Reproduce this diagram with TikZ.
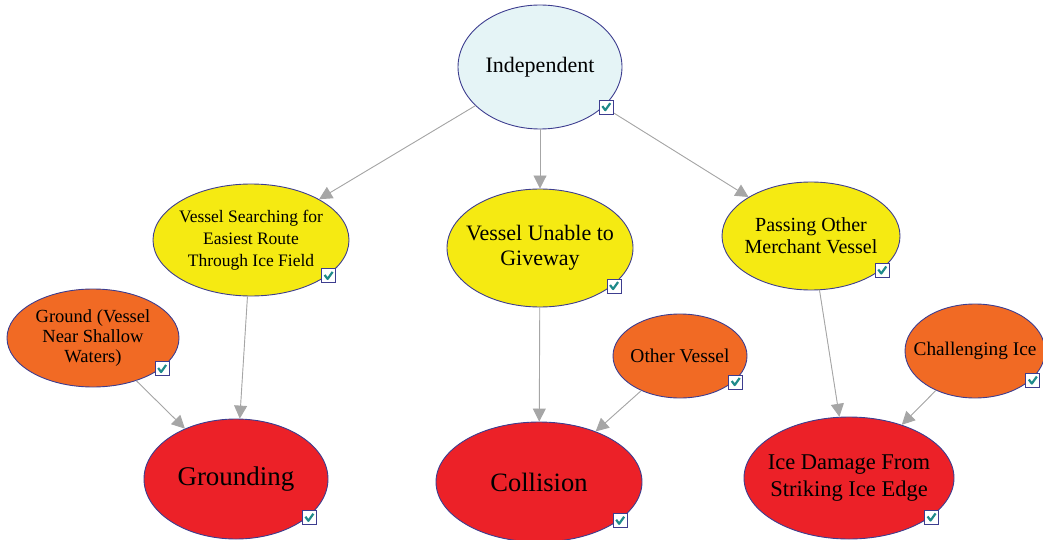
\documentclass[tikz,border=0pt]{standalone}
\usepackage{fontspec}
\setmainfont{Liberation Serif}
\usetikzlibrary{positioning,calc}
\usetikzlibrary{shapes.geometric,arrows.meta}

\definecolor{nodeline}{HTML}{3D3D8F}
\definecolor{indepfill}{HTML}{E5F4F6}
\definecolor{causefill}{HTML}{F5EA12}
\definecolor{extfill}{HTML}{F16A24}
\definecolor{accfill}{HTML}{EC2128}
\definecolor{linkgray}{HTML}{A6A6A6}
\definecolor{checkteal}{HTML}{1E8A8A}

\tikzset{
  bnode/.style={ellipse, draw=nodeline, line width=0.9pt, inner sep=-15pt, align=center, text=black},
  indepnode/.style={bnode, fill=indepfill},
  causenode/.style={bnode, fill=causefill},
  extnode/.style={bnode, fill=extfill},
  accnode/.style={bnode, fill=accfill},
  link/.style={draw=linkgray, fill=linkgray, line width=0.9pt, -{Triangle[length=13pt,width=13pt]}},
  chkbox/.pic={
    \draw[nodeline, fill=white, line width=1pt] (-7,-7) rectangle (7,7);
    \draw[checkteal, line width=2.2pt, line join=round] (-4,-1) -- (-1,3) -- (4,-4);
  }
}

\begin{document}
\begin{tikzpicture}[x=1pt, y=-1pt]
    \useasboundingbox (0,0) rectangle (1043,540);
    \clip (0,0) rectangle (1043,540);

    % root
    \node[indepnode, minimum width=164pt, minimum height=124pt, font=\fontsize{22}{26}\selectfont]
      (indep) at (540,67) {Independent};

    % causes
    \node[causenode, minimum width=196pt, minimum height=112pt, font=\fontsize{17.5}{22}\selectfont]
      (search) at (251,240) {Vessel Searching for\\Easiest Route\\Through Ice Field};
    \node[causenode, minimum width=186pt, minimum height=118pt, font=\fontsize{22}{25}\selectfont]
      (unable) at (540,248) {Vessel Unable to\\Giveway};
    \node[causenode, minimum width=178pt, minimum height=108pt, font=\fontsize{20}{22}\selectfont]
      (passing) at (811,236) {Passing Other\\Merchant Vessel};

    % external factors
    \node[extnode, minimum width=172pt, minimum height=98pt, font=\fontsize{18.5}{20}\selectfont]
      (ground) at (93,338) {Ground (Vessel\\Near Shallow\\Waters)};
    \node[extnode, minimum width=134pt, minimum height=84pt, font=\fontsize{19.5}{22}\selectfont]
      (other) at (680,356) {Other Vessel};
    \node[extnode, minimum width=140pt, minimum height=94pt, font=\fontsize{19.3}{22}\selectfont]
      (challenge) at (975,351) {Challenging Ice};

    % accidents
    \node[accnode, minimum width=184pt, minimum height=120pt, font=\fontsize{27}{30}\selectfont]
      (grounding) at (236,479) {Grounding};
    \node[accnode, minimum width=206pt, minimum height=120pt, font=\fontsize{26.5}{30}\selectfont]
      (collision) at (539,482) {Collision};
    \node[accnode, minimum width=210pt, minimum height=122pt, font=\fontsize{22.5}{27}\selectfont]
      (icedmg) at (849,478) {Ice Damage From\\Striking Ice Edge};

    % links
    \draw[link] (indep) -- (search);
    \draw[link] (indep) -- (unable);
    \draw[link] (indep) -- (passing);
    \draw[link] (search) -- (grounding);
    \draw[link] (ground) -- (grounding);
    \draw[link] (unable) -- (collision);
    \draw[link] (other) -- (collision);
    \draw[link] (passing) -- (icedmg);
    \draw[link] (challenge) -- (icedmg);

    % check boxes
    \foreach \n in {indep,search,unable,passing,ground,other,challenge,grounding,collision,icedmg}
      \pic at ($(\n.south east)+(8,-4)$) {chkbox};
\end{tikzpicture}
\end{document}
